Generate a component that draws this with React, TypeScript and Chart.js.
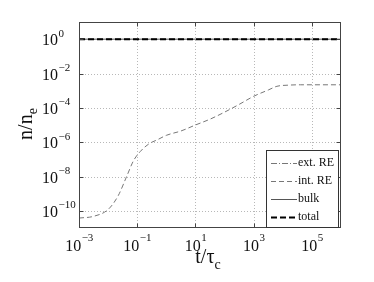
import React, { useEffect, useRef } from "react";
import { Chart, registerables } from "chart.js";

Chart.register(...registerables);

// ---- data ----
const timeValues = [1e-3, 3.2e-3, 1e-2, 2.2e-2, 4.4e-2, 7.4e-2, 0.126, 0.25, 0.5, 1, 3.2, 10, 32, 100, 320, 1000, 3200, 6300, 16000, 40000, 1e5, 1e6];
const intRE = [3.8e-11, 4.8e-11, 1.2e-10, 7.4e-10, 1.07e-8, 8.1e-8, 2.8e-7, 7.9e-7, 1.4e-6, 2.5e-6, 4.5e-6, 1.0e-5, 2.2e-5, 5.6e-5, 1.6e-4, 4.7e-4, 1.1e-3, 1.8e-3, 2.1e-3, 2.2e-3, 2.2e-3, 2.2e-3];
const extRETime: number[] = [];
const extRE: number[] = [];
const bulkTime = [1e-3, 1e6];
const bulk = [1, 0.998];
const totalTime = [1e-3, 1e6];
const total = [1, 1];

const seriesLabels = ["ext. RE", "int. RE", "bulk", "total"];
const xTickExps = [-3, -1, 1, 3, 5];
const yTickExps = [0, -2, -4, -6, -8, -10];

const SERIF = '"Liberation Serif", "Times New Roman", serif';

const toPoints = (xs: number[], ys: number[]) => xs.map((x, i) => ({ x, y: ys[i] }));

const decorPlugin = {
  id: "matlabDecor",
  beforeDatasetsDraw(chart: any) {
    const { ctx, chartArea: a, scales } = chart;
    const xs = scales.x, ys = scales.y;
    ctx.save();
    ctx.strokeStyle = "#b8b8b8";
    ctx.lineWidth = 1;
    ctx.setLineDash([1, 2]);
    xTickExps.forEach((e) => {
      const px = Math.round(xs.getPixelForValue(Math.pow(10, e))) + 0.5;
      if (px <= a.left + 1 || px >= a.right - 1) return;
      ctx.beginPath();
      ctx.moveTo(px, a.top);
      ctx.lineTo(px, a.bottom);
      ctx.stroke();
    });
    yTickExps.forEach((e) => {
      const py = Math.round(ys.getPixelForValue(Math.pow(10, e))) + 0.5;
      if (py <= a.top + 1 || py >= a.bottom - 1) return;
      ctx.beginPath();
      ctx.moveTo(a.left, py);
      ctx.lineTo(a.right, py);
      ctx.stroke();
    });
    ctx.restore();
  },
  afterDatasetsDraw(chart: any) {
    const { ctx, chartArea: a, scales } = chart;
    const xs = scales.x, ys = scales.y;
    ctx.save();
    ctx.setLineDash([]);
    // box
    ctx.strokeStyle = "#444";
    ctx.lineWidth = 1;
    const L = Math.round(a.left) + 0.5, R = Math.round(a.right) - 0.5;
    const T = Math.round(a.top) + 0.5, B = Math.round(a.bottom) - 0.5;
    ctx.strokeRect(L, T, R - L, B - T);
    // inward ticks
    const tl = 4;
    ctx.beginPath();
    xTickExps.forEach((e) => {
      const px = Math.round(xs.getPixelForValue(Math.pow(10, e))) + 0.5;
      ctx.moveTo(px, B); ctx.lineTo(px, B - tl);
      ctx.moveTo(px, T); ctx.lineTo(px, T + tl);
    });
    yTickExps.forEach((e) => {
      const py = Math.round(ys.getPixelForValue(Math.pow(10, e))) + 0.5;
      ctx.moveTo(L, py); ctx.lineTo(L + tl, py);
      ctx.moveTo(R, py); ctx.lineTo(R - tl, py);
    });
    ctx.stroke();

    // tick labels
    ctx.fillStyle = "#111";
    ctx.textBaseline = "alphabetic";
    ctx.textAlign = "left";
    const baseFont = `16px ${SERIF}`;
    const expFont = `11px ${SERIF}`;
    const expStr = (e: number) => (e < 0 ? "\u2212" + Math.abs(e) : String(e));
    xTickExps.forEach((e) => {
      const px = xs.getPixelForValue(Math.pow(10, e));
      ctx.font = baseFont;
      const w1 = ctx.measureText("10").width;
      ctx.font = expFont;
      const es = expStr(e);
      const w2 = ctx.measureText(es).width;
      const x0 = px - (w1 + w2) / 2;
      ctx.font = baseFont;
      ctx.fillText("10", x0, 251);
      ctx.font = expFont;
      ctx.fillText(es, x0 + w1 + 0.5, 241);
    });
    yTickExps.forEach((e) => {
      const py = ys.getPixelForValue(Math.pow(10, e));
      ctx.font = baseFont;
      const w1 = ctx.measureText("10").width;
      ctx.fillText("10", 42, py + 6);
      ctx.font = expFont;
      ctx.fillText(expStr(e), 42 + w1 + 0.5, py - 2.5);
    });

    // axis titles
    const mainFont = `20px ${SERIF}`;
    const subFont = `14px ${SERIF}`;
    // x title: t/τ_c
    ctx.font = mainFont;
    const xw1 = ctx.measureText("t/\u03c4").width;
    ctx.font = subFont;
    const xw2 = ctx.measureText("c").width;
    const xc = (a.left + a.right) / 2 - 2;
    const xs0 = xc - (xw1 + xw2) / 2;
    ctx.font = mainFont;
    ctx.fillText("t/\u03c4", xs0, 263);
    ctx.font = subFont;
    ctx.fillText("c", xs0 + xw1, 269);
    // y title: n/n_e
    ctx.save();
    ctx.translate(32, (a.top + a.bottom) / 2 - 1);
    ctx.rotate(-Math.PI / 2);
    ctx.font = mainFont;
    const yw1 = ctx.measureText("n/n").width;
    ctx.font = subFont;
    const yw2 = ctx.measureText("e").width;
    const ys0 = -(yw1 + yw2) / 2;
    ctx.font = mainFont;
    ctx.fillText("n/n", ys0, 0);
    ctx.font = subFont;
    ctx.fillText("e", ys0 + yw1, 5);
    ctx.restore();

    // legend
    const lx = 266.5, ly = 150.5, lw = 72, lh = 77;
    ctx.fillStyle = "#fff";
    ctx.fillRect(lx, ly, lw, lh);
    ctx.strokeStyle = "#333";
    ctx.lineWidth = 1;
    ctx.setLineDash([]);
    ctx.strokeRect(lx, ly, lw, lh);
    const rows = [163, 181, 199, 217];
    chart.data.datasets.forEach((ds: any, i: number) => {
      const y = rows[i];
      ctx.save();
      ctx.strokeStyle = ds.borderColor;
      ctx.lineWidth = ds.borderWidth;
      ctx.setLineDash(ds.borderDash || []);
      ctx.beginPath();
      ctx.moveTo(271, Math.round(y) + 0.5);
      ctx.lineTo(297, Math.round(y) + 0.5);
      ctx.stroke();
      ctx.restore();
      ctx.fillStyle = "#111";
      ctx.font = `12px ${SERIF}`;
      ctx.textBaseline = "middle";
      ctx.fillText(ds.label, 298, y);
    });
    ctx.restore();
  },
};

export default function App() {
  const ref = useRef<HTMLCanvasElement | null>(null);
  useEffect(() => {
    if (!ref.current) return;
    const chart = new Chart(ref.current, {
      type: "line",
      data: {
        datasets: [
          {
            label: seriesLabels[0],
            data: toPoints(extRETime, extRE),
            borderColor: "#777",
            borderWidth: 1,
            borderDash: [6, 2, 1, 2],
            pointRadius: 0,
            order: 3,
          },
          {
            label: seriesLabels[1],
            data: toPoints(timeValues, intRE),
            borderColor: "#777",
            borderWidth: 1,
            borderDash: [5, 3],
            pointRadius: 0,
            cubicInterpolationMode: "monotone",
            order: 2,
          },
          {
            label: seriesLabels[2],
            data: toPoints(bulkTime, bulk),
            borderColor: "#555",
            borderWidth: 1,
            pointRadius: 0,
            order: 1,
          },
          {
            label: seriesLabels[3],
            data: toPoints(totalTime, total),
            borderColor: "#000",
            borderWidth: 2,
            borderDash: [6, 3],
            pointRadius: 0,
            order: 0,
          },
        ] as any,
      },
      options: {
        animation: false,
        responsive: false,
        layout: { padding: { left: 79, top: 22, right: 33, bottom: 54 } },
        plugins: { legend: { display: false }, tooltip: { enabled: false } },
        scales: {
          x: { type: "logarithmic", min: 1e-3, max: 1e6, display: false },
          y: { type: "logarithmic", min: 1e-11, max: 1e1, display: false },
        },
      },
      plugins: [decorPlugin],
    });
    return () => chart.destroy();
  }, []);
  return (
    <div style={{ position: "absolute", left: 0, top: 0, width: 374, height: 282, background: "#fff" }}>
      <canvas ref={ref} width={374} height={282} style={{ display: "block" }} />
    </div>
  );
}
